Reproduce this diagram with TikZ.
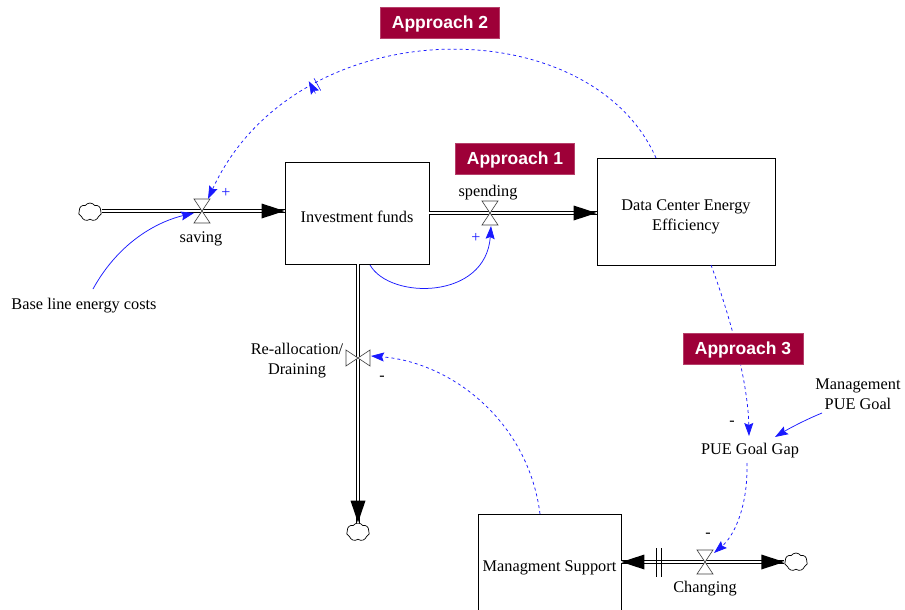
\documentclass[tikz,border=0pt]{standalone}
\usepackage{fontspec}
\setmainfont{Liberation Serif}
\newfontfamily\labelfont{Liberation Sans}
\usetikzlibrary{arrows.meta,shapes.symbols,decorations.markings,calc}
\definecolor{appr}{RGB}{158,0,56}
\definecolor{lnk}{RGB}{25,25,255}
\begin{document}
\begin{tikzpicture}[x=1pt,y=-1pt,
  txt/.style={font=\fontsize{16.3}{20}\selectfont, align=center, inner sep=0pt, yshift=-2.5pt},
  stockbox/.style={draw, line width=0.8pt, fill=white, inner sep=0pt, font=\fontsize{16.3}{20}\selectfont, align=center},
  appbox/.style={fill=appr, draw=appr!75!white, text=white, font=\labelfont\bfseries\fontsize{17.5}{20}\selectfont, inner sep=0pt, minimum height=31pt, text depth=2pt},
  pipe/.style={draw, line width=0.7pt, double=white, double distance=2.6pt},
  lnkline/.style={draw=lnk, line width=0.75pt, -{Stealth[length=13pt,width=9pt,inset=2pt]}},
  dlnk/.style={lnkline, dash pattern=on 3pt off 3pt},
  cloudnode/.style={cloud, cloud puffs=7, cloud puff arc=110, draw, fill=white, minimum width=23pt, minimum height=18pt, inner sep=0pt, line width=0.7pt},
  sign/.style={font=\fontsize{16}{18}\selectfont, inner sep=0pt},
  hvalve/.pic={\draw[fill=white, line width=0.6pt, draw=black!75] (-8,-12)--(8,-12)--(-8,12)--(8,12)--cycle;},
  vvalve/.pic={\draw[fill=white, line width=0.6pt, draw=black!75] (-12,-8)--(-12,8)--(12,-8)--(12,8)--cycle;}
]
\useasboundingbox (0,0) rectangle (905,610);
\clip (0,0) rectangle (905,610);

% stocks
\node[stockbox, minimum width=144pt, minimum height=102pt] (inv) at (357,213) {};
\node[txt] (invtxt) at (357,214) {Investment funds};
\node[stockbox, minimum width=178pt, minimum height=107pt] (dce) at (686,211.5) {};
\node[txt] (dcetxt) at (686,214) {Data Center Energy\\Efficiency};
\node[stockbox, minimum width=143pt, minimum height=105pt] (ms) at (549.5,566.5) {};
\node[txt] (mstxt) at (549.5,565) {Managment Support};

% clouds
\node[cloudnode] (c1) at (90,212) {};
\node[cloudnode] (c2) at (358,532) {};
\node[cloudnode] (c3) at (796,562) {};

% valves
\coordinate (sv) at (202,211);
\coordinate (sp) at (490,213);
\coordinate (ra) at (358,358);
\coordinate (ch) at (705,562);
\coordinate (bar) at (658.5,562);

% pipes
\draw[pipe] (c1.east |- sv) -- (inv.west |- sv);
\fill (inv.west |- sv) -- ++(-23,-7.5) -- ++(0,15) -- cycle;
\draw[pipe] (inv.east |- sp) -- (dce.west |- sp);
\fill (dce.west |- sp) -- ++(-23,-7.5) -- ++(0,15) -- cycle;
\draw[pipe] (inv.south -| ra) -- (c2.north -| ra);
\fill (c2.north -| ra) -- ++(-7.5,-22) -- ++(15,0) -- cycle;
\draw[pipe] (ms.east |- ch) -- (c3.west |- ch);
\fill (ms.east |- ch) -- ++(23,-7.5) -- ++(0,15) -- cycle;
\fill (c3.west |- ch) -- ++(-23,-7.5) -- ++(0,15) -- cycle;
\draw[line width=0.8pt] ($(bar)+(-2.5,-14)$) -- ++(0,29) ($(bar)+(2.5,-14)$) -- ++(0,29);

\pic at (sv) {hvalve};
\pic at (sp) {hvalve};
\pic at (ra) {vvalve};
\pic at (ch) {hvalve};

% variable names
\node[txt] (svl) at (201,236) {saving};
\node[txt] (spl) at (488,190) {spending};
\node[txt] (ral) at (297,358) {Re-allocation/\\Draining};
\node[txt] (chl) at (705,586) {Changing};
\node[txt] (bl) at (84,303) {Base line energy costs};
\node[txt] (gap) at (750,448) {PUE Goal Gap};
\node[txt] (mpg) at (858,392) {Management\\PUE Goal};

% links
\coordinate (blout) at (93,289);
\coordinate (svin) at (194,213);
\draw[lnkline] (blout) .. controls (120,240) and (160,221) .. (svin);

\coordinate (invout) at (370,265);
\coordinate (spin) at (491,226);
\draw[lnkline] (invout) .. controls (390,300) and (486,300) .. (spin);

\coordinate (dceout) at (656,158);
\coordinate (svin2) at (208,199);
\draw[dlnk, postaction={decorate}, decoration={markings,
  mark=at position 0.71 with {\draw[solid, lnk, line width=0.6pt] (-3,-7) -- (-3,7) (3,-7) -- (3,7);}}]
  (dceout) .. controls (590,8) and (296,8) .. (svin2);

\coordinate (dceout2) at (711,265);
\coordinate (gapin) at (749,436);
\draw[dlnk] (dceout2) .. controls (728,310) and (748,380) .. (gapin);

\coordinate (mpgout) at (822,413);
\coordinate (gapin2) at (775,437);
\draw[lnkline] (mpgout) .. controls (805,420) and (790,428) .. (gapin2);

\coordinate (gapout) at (747,463);
\coordinate (chin) at (714,553);
\draw[dlnk] (gapout) .. controls (748,505) and (735,535) .. (chin);

\coordinate (msout) at (540,514);
\coordinate (rain) at (371,356);
\draw[dlnk] (msout) .. controls (528,420) and (450,362) .. (rain);

% polarity signs
\node[sign, text=lnk] (p1) at (226,193) {+};
\node[sign, text=lnk] (p2) at (476,238) {+};
\node[sign] (m1) at (732,423) {-};
\node[sign] (m2) at (708,535) {-};
\node[sign] (m3) at (382,378) {-};

% approach labels
\node[appbox, minimum width=119pt] (a2) at (440,23) {Approach 2};
\node[appbox, minimum width=119pt] (a1) at (515,159) {Approach 1};
\node[appbox, minimum width=120pt] (a3) at (743,349) {Approach 3};
\end{tikzpicture}
\end{document}
